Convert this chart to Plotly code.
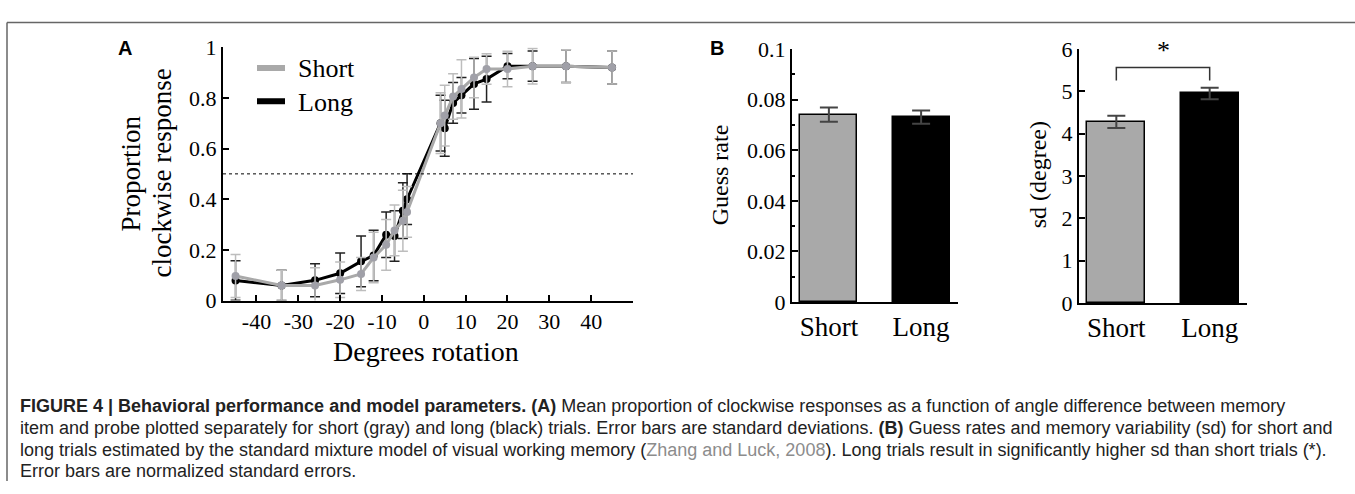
import plotly.graph_objects as go

W, H = 1355, 494

# ---------------- data ----------------
deg = [-45, -34, -26, -20, -15, -12, -9, -7, -5, -4, 4, 5, 7, 9, 12, 15, 20, 26, 34, 45]
long_p = [0.079, 0.06, 0.08, 0.108, 0.155, 0.178, 0.26, 0.255, 0.355, 0.40,
          0.70, 0.68, 0.78, 0.81, 0.855, 0.874, 0.925, 0.925, 0.925, 0.92]
long_sd = [0.078, 0.06, 0.065, 0.08, 0.10, 0.10, 0.09, 0.10, 0.11, 0.10,
           0.11, 0.11, 0.08, 0.07, 0.10, 0.09, 0.05, 0.06, 0.065, 0.065]
short_p = [0.097, 0.06, 0.06, 0.082, 0.105, 0.17, 0.22, 0.277, 0.315, 0.35,
           0.70, 0.73, 0.805, 0.835, 0.88, 0.914, 0.914, 0.925, 0.925, 0.92]
short_sd = [0.085, 0.06, 0.07, 0.07, 0.065, 0.10, 0.10, 0.10, 0.12, 0.10,
            0.12, 0.12, 0.09, 0.115, 0.08, 0.06, 0.07, 0.07, 0.065, 0.065]

a_xticks = [-40, -30, -20, -10, 0, 10, 20, 30, 40]
a_xticktext = ["-40", "-30", "-20", "-10", "0", "10", "20", "30", "40"]
a_yticks = [0, 0.2, 0.4, 0.6, 0.8, 1]
a_yticktext = ["0", "0.2", "0.4", "0.6", "0.8", "1"]

groups = ["Short", "Long"]
guess = [0.0741, 0.0731]
guess_se = [0.0028, 0.0026]
sdv = [4.28, 4.95]
sdv_se = [0.145, 0.135]

g_yticks = [0, 0.02, 0.04, 0.06, 0.08, 0.1]
g_yticktext = ["0", "0.02", "0.04", "0.06", "0.08", "0.1"]
s_yticks = [0, 1, 2, 3, 4, 5, 6]

GRAY = "#a9a9a9"
SERIF = "Liberation Serif"


def px(x):
    return x / W


def py(y):
    return 1 - y / H


fig = go.Figure()

# ---------------- panel A ----------------
fig.add_trace(go.Scatter(
    x=deg, y=long_p, mode="lines+markers", xaxis="x", yaxis="y",
    line=dict(color="black", width=3), marker=dict(color="black", size=8),
    error_y=dict(type="data", array=long_sd, color="#222222", thickness=1.5, width=5),
    showlegend=False))
fig.add_trace(go.Scatter(
    x=deg, y=short_p, mode="lines+markers", xaxis="x", yaxis="y",
    line=dict(color=GRAY, width=3), marker=dict(color="#a0a0a8", size=8),
    error_y=dict(type="data", array=short_sd, color="#bdbdbd", thickness=1.5, width=5),
    showlegend=False))

# ---------------- panel B ----------------
fig.add_trace(go.Bar(
    x=[0, 1], y=guess, xaxis="x2", yaxis="y2", width=0.62,
    marker=dict(color=[GRAY, "black"], line=dict(color="black", width=1.5)),
    error_y=dict(type="data", array=guess_se, color="#444444", thickness=2, width=9),
    showlegend=False))
fig.add_trace(go.Bar(
    x=[0, 1], y=sdv, xaxis="x3", yaxis="y3", width=0.62,
    marker=dict(color=[GRAY, "black"], line=dict(color="black", width=1.5)),
    error_y=dict(type="data", array=sdv_se, color="#444444", thickness=2, width=9),
    showlegend=False))

axis_common = dict(showline=True, linecolor="black", linewidth=2, showgrid=False,
                   zeroline=False, ticks="inside", ticklen=6, tickcolor="black",
                   tickwidth=1.5, tickfont=dict(family=SERIF, size=22, color="black"))

fig.update_layout(
    width=W, height=H, margin=dict(l=0, r=0, t=0, b=0),
    paper_bgcolor="white", plot_bgcolor="white", bargap=0,
    xaxis=dict(domain=[px(223), px(633)], range=[-48, 50], anchor="y",
               tickvals=a_xticks, ticktext=a_xticktext, **axis_common),
    yaxis=dict(domain=[py(304), py(37)], range=[0, 1], anchor="x",
               tickvals=a_yticks, ticktext=a_yticktext, **axis_common),
    xaxis2=dict(domain=[px(792), px(958)], range=[-0.4, 1.4], anchor="y2",
                tickvals=[0, 1], ticktext=groups, showline=True, linecolor="black",
                linewidth=2, showgrid=False, zeroline=False, ticks="",
                tickfont=dict(family=SERIF, size=27, color="black")),
    yaxis2=dict(domain=[py(305.5), py(39)], range=[0, 0.1], anchor="x2",
                tickvals=g_yticks, ticktext=g_yticktext,
                minor=dict(ticks="inside", ticklen=3, dtick=0.01, tickcolor="black"),
                **axis_common),
    xaxis3=dict(domain=[px(1079), px(1247)], range=[-0.4, 1.4], anchor="y3",
                tickvals=[0, 1], ticktext=groups, showline=True, linecolor="black",
                linewidth=2, showgrid=False, zeroline=False, ticks="",
                tickfont=dict(family=SERIF, size=27, color="black")),
    yaxis3=dict(domain=[py(306.6), py(39)], range=[0, 6], anchor="x3",
                tickvals=s_yticks, **axis_common),
)

shapes = []
# frame
shapes.append(dict(type="line", xref="paper", yref="paper", x0=px(7), x1=1, y0=py(11), y1=py(11),
                   line=dict(color="#666666", width=1.5)))
shapes.append(dict(type="line", xref="paper", yref="paper", x0=px(7), x1=px(7), y0=py(11), y1=0,
                   line=dict(color="#666666", width=1.5)))
# dotted 0.5 line
shapes.append(dict(type="line", xref="x domain", yref="y", x0=0, x1=1, y0=0.5, y1=0.5,
                   line=dict(color="black", width=1, dash="dot")))
# legend swatches
shapes.append(dict(type="line", xref="paper", yref="paper", x0=px(257), x1=px(285),
                   y0=py(59), y1=py(59), line=dict(color=GRAY, width=6)))
shapes.append(dict(type="line", xref="paper", yref="paper", x0=px(257), x1=px(285),
                   y0=py(94), y1=py(94), line=dict(color="black", width=6)))
# significance bracket
br_low = max(v + e for v, e in zip(sdv, sdv_se)) + 0.17
br_top = br_low + 0.31
shapes.append(dict(type="path", xref="x3", yref="y3",
                   path=f"M 0 {br_low} L 0 {br_top} L 1 {br_top} L 1 {br_low}",
                   line=dict(color="#333333", width=1.5)))
fig.update_layout(shapes=shapes)

ann = []
ann.append(dict(text="Short", xref="paper", yref="paper", x=px(296), y=py(60), xanchor="left",
                yanchor="middle", showarrow=False, font=dict(family=SERIF, size=26, color="black")))
ann.append(dict(text="Long", xref="paper", yref="paper", x=px(296), y=py(95), xanchor="left",
                yanchor="middle", showarrow=False, font=dict(family=SERIF, size=26, color="black")))
ann.append(dict(text="*", xref="x3", yref="y3", x=0.5, y=br_top + 0.02, xanchor="center",
                yanchor="bottom", showarrow=False, font=dict(family=SERIF, size=26, color="black")))
# panel labels
ann.append(dict(text="<b>A</b>", xref="paper", yref="paper", x=px(125), y=py(38), showarrow=False,
                xanchor="center", yanchor="middle", font=dict(family="Liberation Sans", size=20, color="black")))
ann.append(dict(text="<b>B</b>", xref="paper", yref="paper", x=px(717), y=py(38), showarrow=False,
                xanchor="center", yanchor="middle", font=dict(family="Liberation Sans", size=20, color="black")))
# axis titles
ann.append(dict(text="Proportion", xref="paper", yref="paper", x=px(131), y=py(170), textangle=-90,
                showarrow=False, xanchor="center", yanchor="middle",
                font=dict(family=SERIF, size=27, color="black")))
ann.append(dict(text="clockwise response", xref="paper", yref="paper", x=px(162), y=py(170), textangle=-90,
                showarrow=False, xanchor="center", yanchor="middle",
                font=dict(family=SERIF, size=27, color="black")))
ann.append(dict(text="Degrees rotation", xref="paper", yref="paper", x=px(426), y=py(358),
                showarrow=False, xanchor="center", yanchor="middle",
                font=dict(family=SERIF, size=28, color="black")))
ann.append(dict(text="Guess rate", xref="paper", yref="paper", x=px(720), y=py(172), textangle=-90,
                showarrow=False, xanchor="center", yanchor="middle",
                font=dict(family=SERIF, size=24, color="black")))
ann.append(dict(text="sd (degree)", xref="paper", yref="paper", x=px(1038), y=py(172), textangle=-90,
                showarrow=False, xanchor="center", yanchor="middle",
                font=dict(family=SERIF, size=24, color="black")))

cap = [
    "<b>FIGURE 4 | Behavioral performance and model parameters. (A)</b> Mean proportion of clockwise responses as a function of angle difference between memory",
    "item and probe plotted separately for short (gray) and long (black) trials. Error bars are standard deviations. <b>(B)</b> Guess rates and memory variability (sd) for short and",
    "long trials estimated by the standard mixture model of visual working memory (<span style='color:#8c8c8c'>Zhang and Luck, 2008</span>). Long trials result in significantly higher sd than short trials (*).",
    "Error bars are normalized standard errors.",
]
cap_y = [415, 438, 461, 483]
for t, yy in zip(cap, cap_y):
    ann.append(dict(text=t, xref="paper", yref="paper", x=px(18), y=py(yy), xanchor="left",
                    yanchor="middle", showarrow=False,
                    font=dict(family="Liberation Sans", size=18, color="#222222")))
fig.update_layout(annotations=ann)

fig.write_html("out.html")
